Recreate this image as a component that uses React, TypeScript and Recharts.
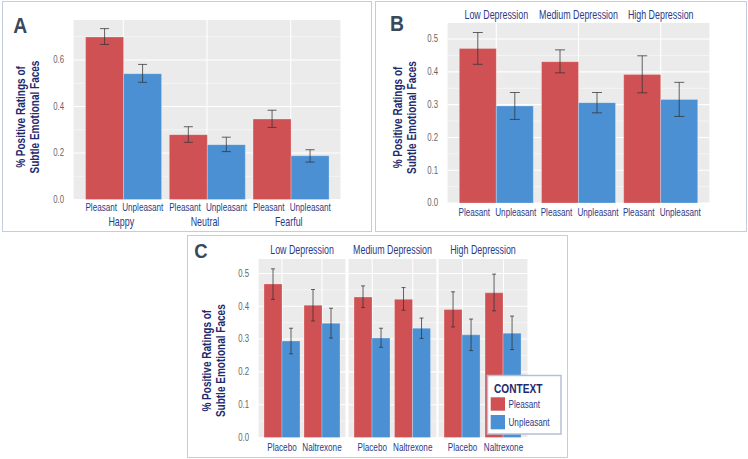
import React from 'react';
import { BarChart, Bar, XAxis, YAxis, CartesianGrid, ErrorBar } from 'recharts';

const FONT = "'Liberation Sans', Arial, sans-serif";
const RED = '#CF5154';
const BLUE = '#4A90D2';
const PANEL_BG = '#EBEBEB';
const NAVY = '#2B3A88';
const TITLE_NAVY = '#1E2A6E';
const LETTER = '#3B4859';
const BORDER = '#C3CDE0';
const ERR = '#333333';

// context (fill) levels
const contexts = ['Pleasant', 'Unpleasant'];

// Panel A: by face emotion
const emotions = ['Happy', 'Neutral', 'Fearful'];
const aPleasant = [0.699, 0.279, 0.346];
const aPleasantLo = [0.667, 0.246, 0.31];
const aPleasantHi = [0.735, 0.313, 0.384];
const aUnpleasant = [0.541, 0.236, 0.188];
const aUnpleasantLo = [0.504, 0.206, 0.161];
const aUnpleasantHi = [0.581, 0.268, 0.214];
const aTicks = [0, 0.2, 0.4, 0.6];
const aMinor = [0.1, 0.3, 0.5, 0.7];

// Panel B: by depression level
const levels = ['Low Depression', 'Medium Depression', 'High Depression'];
const bPleasant = [0.471, 0.431, 0.392];
const bPleasantLo = [0.423, 0.397, 0.336];
const bPleasantHi = [0.52, 0.467, 0.449];
const bUnpleasant = [0.296, 0.306, 0.316];
const bUnpleasantLo = [0.255, 0.275, 0.264];
const bUnpleasantHi = [0.337, 0.337, 0.368];

// Panel C: depression level x drug (Low P, Low N, Med P, Med N, High P, High N)
const drugs = ['Placebo', 'Naltrexone'];
const cPleasant = [0.468, 0.403, 0.428, 0.421, 0.39, 0.441];
const cPleasantLo = [0.421, 0.355, 0.396, 0.388, 0.337, 0.386];
const cPleasantHi = [0.514, 0.451, 0.462, 0.457, 0.444, 0.498];
const cUnpleasant = [0.294, 0.348, 0.303, 0.333, 0.313, 0.318];
const cUnpleasantLo = [0.255, 0.303, 0.275, 0.302, 0.265, 0.268];
const cUnpleasantHi = [0.333, 0.394, 0.333, 0.364, 0.361, 0.37];

const bcTicks = [0, 0.1, 0.2, 0.3, 0.4, 0.5];
const bcMinor = [0.05, 0.15, 0.25, 0.35, 0.45];

const buildRows = (labels: string[], p: number[], pLo: number[], pHi: number[], u: number[], uLo: number[], uHi: number[]) =>
    labels.map((label, i) => ({
        label,
        pleasant: p[i],
        pleasantErr: [p[i] - pLo[i], pHi[i] - p[i]],
        unpleasant: u[i],
        unpleasantErr: [u[i] - uLo[i], uHi[i] - u[i]]
    }));

const dataA = buildRows(emotions, aPleasant, aPleasantLo, aPleasantHi, aUnpleasant, aUnpleasantLo, aUnpleasantHi);
const dataB = buildRows(levels, bPleasant, bPleasantLo, bPleasantHi, bUnpleasant, bUnpleasantLo, bUnpleasantHi);
const dataC = levels.map((_, k) => {
    const s = (arr: number[]) => arr.slice(2 * k, 2 * k + 2);
    return buildRows(drugs, s(cPleasant), s(cPleasantLo), s(cPleasantHi), s(cUnpleasant), s(cUnpleasantLo), s(cUnpleasantHi));
});

// narrow-looking text (the figure uses a condensed face)
const NarrowText = ({ x, y, text, size = 11, fill = NAVY, weight = 'normal', rotate = 0, squeeze = 0.74, anchor = 'middle' }: any) => (
    <text
        transform={`translate(${x},${y}) rotate(${rotate}) scale(${squeeze},1)`}
        textAnchor={anchor}
        dominantBaseline="central"
        fontSize={size}
        fontWeight={weight}
        fill={fill}
        fontFamily={FONT}
    >
        {text}
    </text>
);

const YTick = ({ x, y, payload }: any) => (
    <NarrowText x={x} y={y} text={Number(payload.value).toFixed(1)} size={10} fill="#666" anchor="end" squeeze={0.78} />
);

const ATick = ({ x, payload }: any) => (
    <g>
        <NarrowText x={x - 22} y={206.3} text={contexts[0]} />
        <NarrowText x={x + 19.5} y={206.3} text={contexts[1]} />
        <NarrowText x={x - 2} y={220} text={payload.value} size={12} />
    </g>
);

const BTick = ({ x, payload }: any) => (
    <g>
        <NarrowText x={x - 22} y={210.7} text={contexts[0]} />
        <NarrowText x={x + 19.5} y={210.7} text={contexts[1]} />
        <NarrowText x={x} y={13} text={payload.value} size={12} />
    </g>
);

const CTick = ({ x, payload }: any) => (
    <NarrowText x={x} y={211.3} text={payload.value} />
);

const grids = (major: number[], minor: number[]) => [
    <CartesianGrid key="major" fill={PANEL_BG} fillOpacity={1} stroke="#fff" strokeWidth={1.1} horizontalValues={major} />,
    <CartesianGrid key="minor" vertical={false} fill="none" stroke="#fff" strokeWidth={0.6} strokeOpacity={0.8} horizontalValues={minor} />
];

const bars = (cap: number) => [
    <Bar key="p" dataKey="pleasant" fill={RED} stroke="rgba(255,255,255,0.25)" isAnimationActive={false}>
        <ErrorBar dataKey="pleasantErr" width={cap} stroke={ERR} strokeOpacity={0.75} strokeWidth={1} isAnimationActive={false} />
    </Bar>,
    <Bar key="u" dataKey="unpleasant" fill={BLUE} stroke="rgba(255,255,255,0.25)" isAnimationActive={false}>
        <ErrorBar dataKey="unpleasantErr" width={cap} stroke={ERR} strokeOpacity={0.75} strokeWidth={1} isAnimationActive={false} />
    </Bar>
];

const box = (left: number, top: number, width: number, height: number) => (
    <div style={{ position: 'absolute', left, top, width, height, border: `1.5px solid ${BORDER}`, boxSizing: 'border-box' }} />
);

const place = (left: number, top: number, child: React.ReactNode) => (
    <div style={{ position: 'absolute', left, top }}>{child}</div>
);

const cLayout = [
    { left: 187, width: 159, axis: 71 },
    { left: 348, width: 89, axis: 0 },
    { left: 438, width: 90, axis: 0 }
];

const YTitle = ({ x1, x2, y }: any) => (
    <g>
        <NarrowText x={x1} y={y} text="% Positive Ratings of" size={13} weight="bold" fill={TITLE_NAVY} rotate={-90} squeeze={0.77} />
        <NarrowText x={x2} y={y} text="Subtle Emotional Faces" size={13} weight="bold" fill={TITLE_NAVY} rotate={-90} squeeze={0.77} />
    </g>
);

export default function App() {
    return (
        <div style={{ position: 'absolute', left: 0, top: 0, width: 748, height: 459, background: '#fff', overflow: 'hidden' }}>
            {box(2, 1, 370, 231)}
            {box(375, 1, 372, 231)}
            {box(187, 235, 381, 223)}

            {place(2, 1,
                <BarChart width={370} height={231} data={dataA} margin={{ top: 19, right: 31, bottom: 0, left: 0 }} barCategoryGap="5%" barGap={0}>
                    {grids(aTicks, aMinor)}
                    <XAxis dataKey="label" padding={{ left: 8.4, right: 8.4 }} height={32.5} tickLine={false} axisLine={false} interval={0} tick={(p: any) => <ATick {...p} />} />
                    <YAxis domain={[0, 0.772]} ticks={aTicks} width={71} tickLine={false} axisLine={false} tickMargin={3} tick={(p: any) => <YTick {...p} />} />
                    {bars(4.5)}
                </BarChart>
            )}

            {place(376, 1,
                <BarChart width={370} height={231} data={dataB} margin={{ top: 22, right: 36, bottom: 0, left: 0 }} barCategoryGap="5%" barGap={0}>
                    {grids(bcTicks, bcMinor)}
                    <XAxis dataKey="label" padding={{ left: 8.2, right: 8.2 }} height={29} tickLine={false} axisLine={false} interval={0} tick={(p: any) => <BTick {...p} />} />
                    <YAxis domain={[0, 0.549]} ticks={bcTicks} width={71} tickLine={false} axisLine={false} tickMargin={3} tick={(p: any) => <YTick {...p} />} />
                    {bars(5)}
                </BarChart>
            )}

            {cLayout.map((c, k) => (
                <div key={k} style={{ position: 'absolute', left: c.left, top: 236 }}>
                    <BarChart width={c.width} height={222} data={dataC[k]} margin={{ top: 23, right: 0, bottom: 0, left: 0 }} barCategoryGap="5%" barGap={0}>
                        {grids(bcTicks, bcMinor)}
                        <XAxis dataKey="label" padding={{ left: 4, right: 4 }} height={20.5} tickLine={false} axisLine={false} interval={0} tick={(p: any) => <CTick {...p} />} />
                        <YAxis domain={[0, 0.544]} ticks={bcTicks} width={c.axis} hide={c.axis === 0} tickLine={false} axisLine={false} tickMargin={3} tick={(p: any) => <YTick {...p} />} />
                        {bars(2)}
                    </BarChart>
                </div>
            ))}

            <svg width={748} height={459} style={{ position: 'absolute', left: 0, top: 0, pointerEvents: 'none' }}>
                <NarrowText x={20.3} y={25.5} text="A" size={22} weight="bold" fill={LETTER} squeeze={0.88} />
                <NarrowText x={397} y={23.5} text="B" size={22} weight="bold" fill={LETTER} squeeze={0.88} />
                <NarrowText x={201} y={250.5} text="C" size={21} weight="bold" fill={LETTER} squeeze={0.88} />

                <YTitle x1={20} x2={33.7} y={117} />
                <YTitle x1={396.7} x2={410.7} y={117.5} />
                <YTitle x1={206} x2={219.8} y={360.7} />

                <NarrowText x={302} y={249.3} text={levels[0]} size={12} />
                <NarrowText x={392.5} y={249.3} text={levels[1]} size={12} />
                <NarrowText x={483} y={249.3} text={levels[2]} size={12} />

                <rect x={487.5} y={375.5} width={73.5} height={58.5} fill="#fff" stroke="#B5C0D6" strokeWidth={1.5} />
                <NarrowText x={494} y={388} text="CONTEXT" size={13} weight="bold" fill={TITLE_NAVY} anchor="start" squeeze={0.78} />
                <rect x={490.7} y={397.3} width={14.3} height={13.4} fill={RED} />
                <rect x={490.7} y={415} width={14.3} height={14.3} fill={BLUE} />
                <NarrowText x={508.5} y={404} text={contexts[0]} anchor="start" />
                <NarrowText x={508.5} y={422} text={contexts[1]} anchor="start" />
            </svg>
        </div>
    );
}
